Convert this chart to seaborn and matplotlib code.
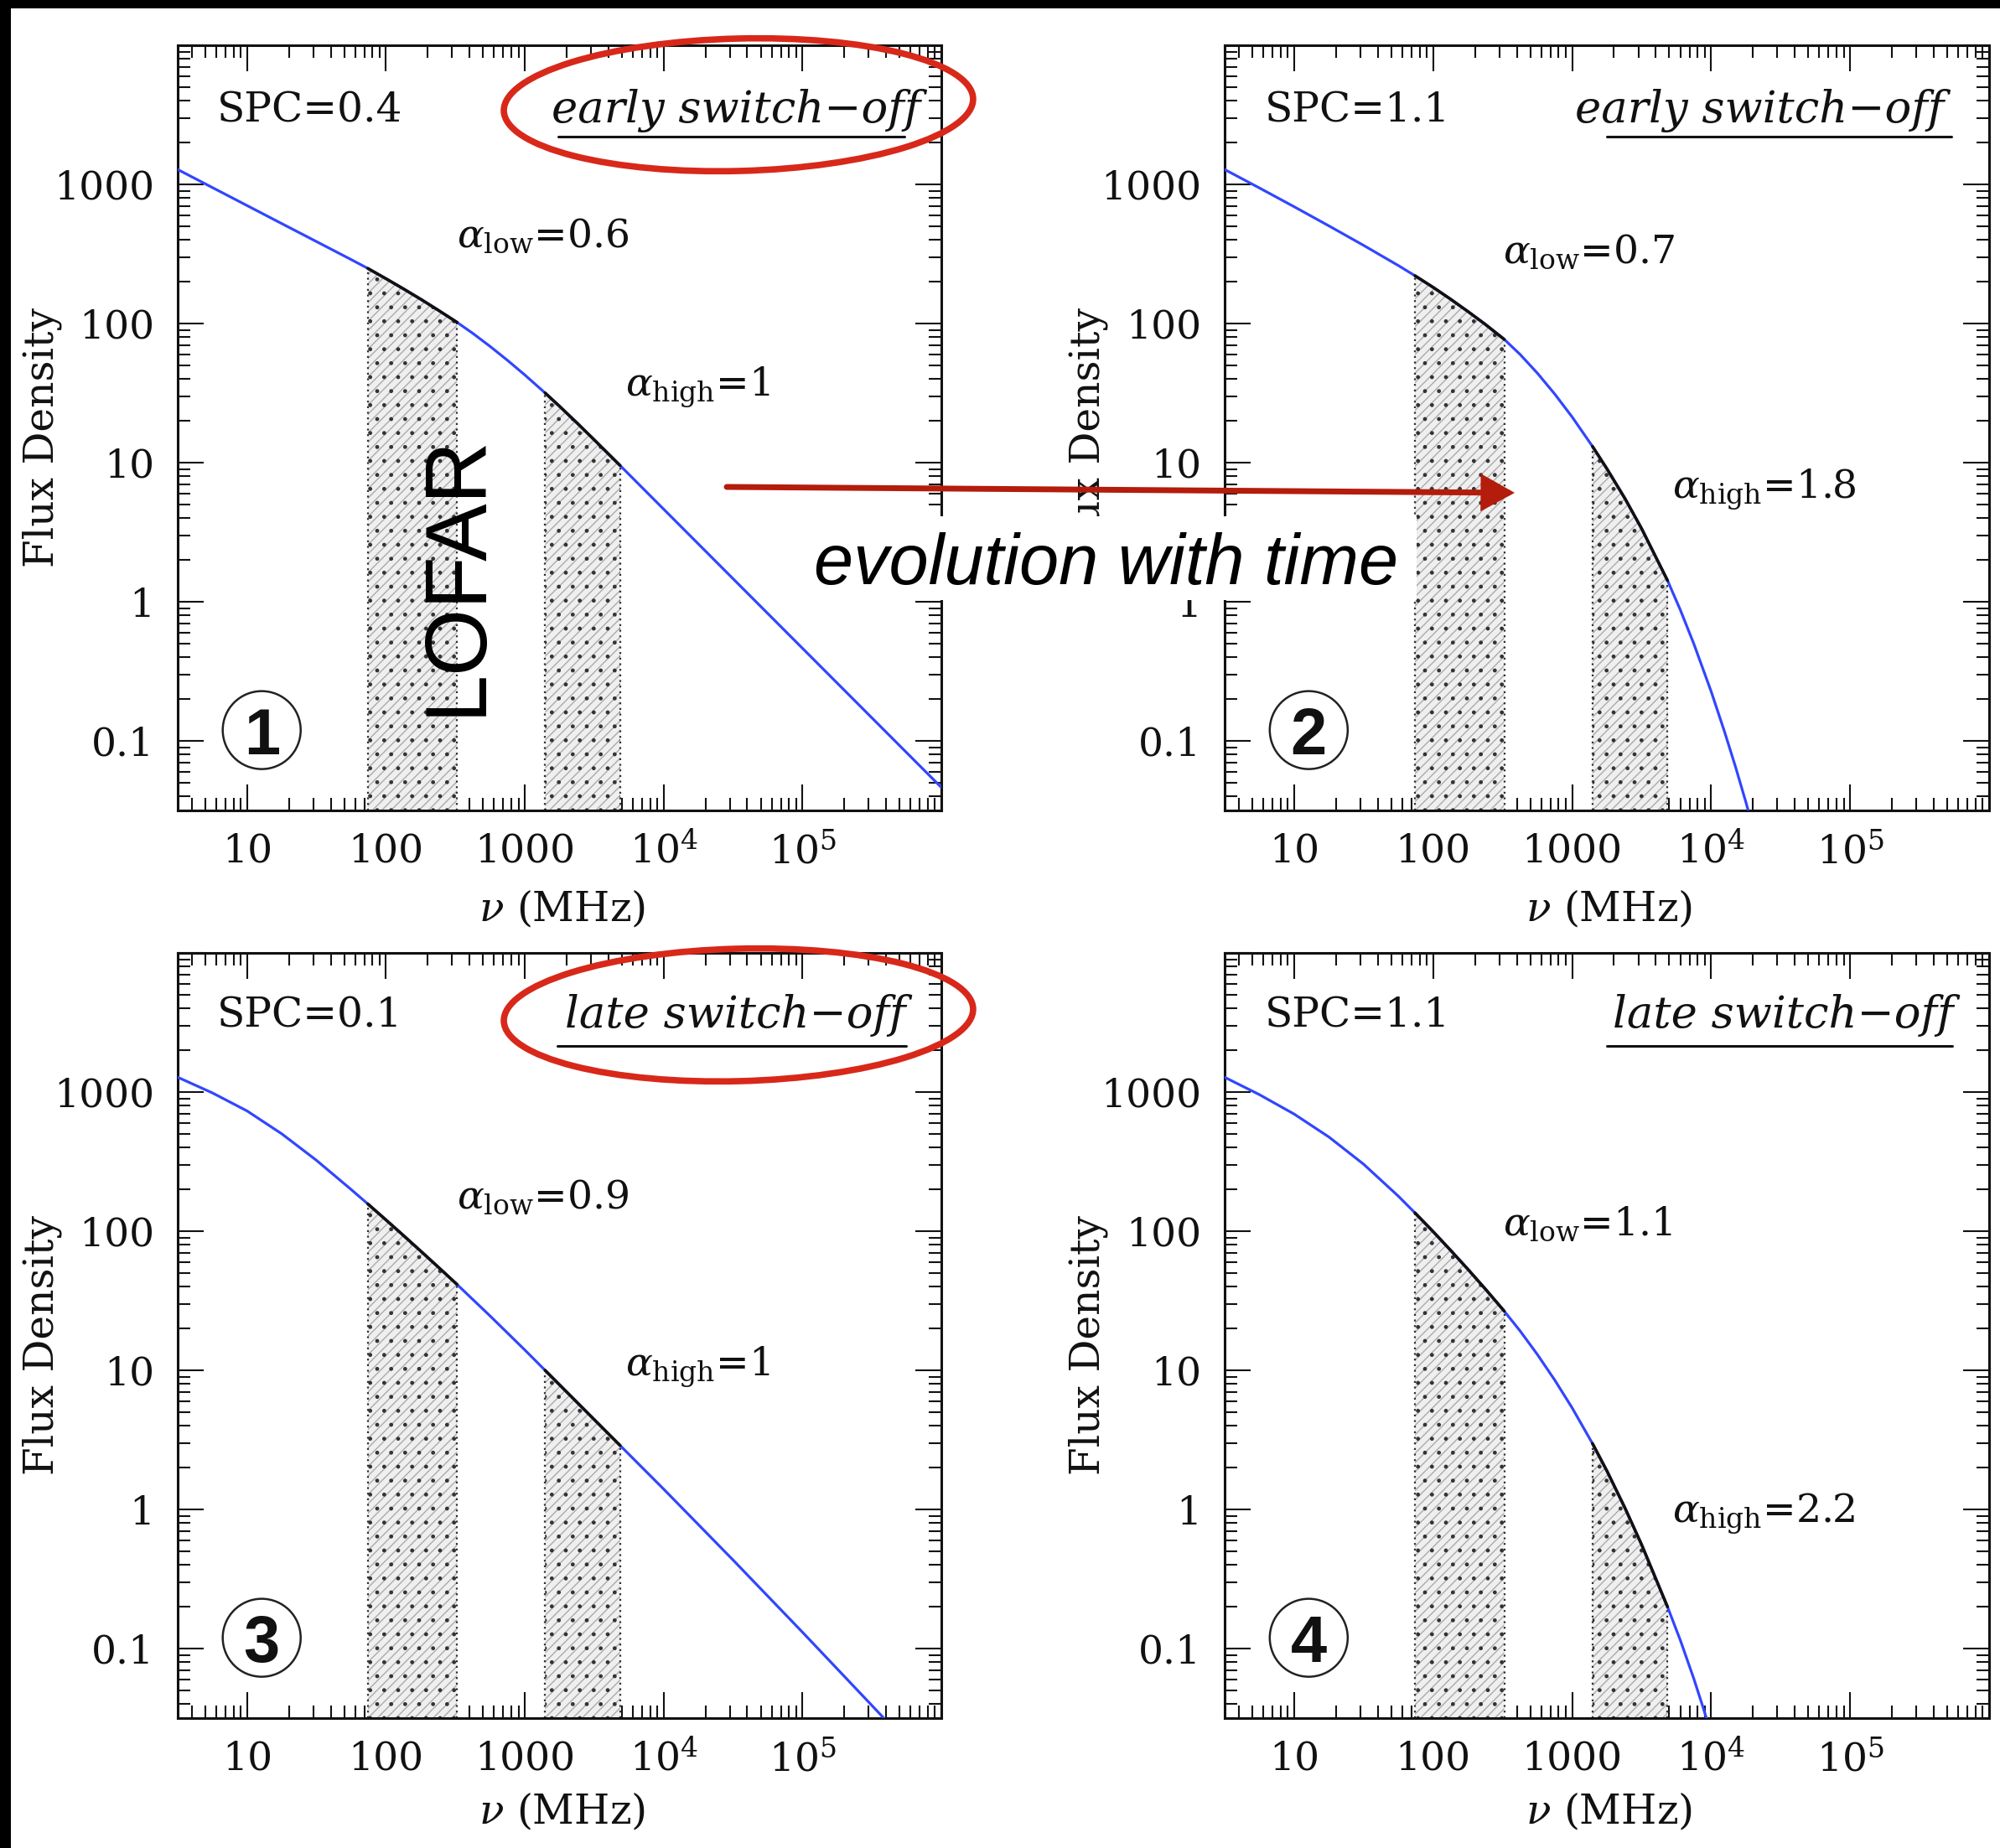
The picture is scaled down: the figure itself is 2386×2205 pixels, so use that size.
import numpy as np
import pandas as pd
import matplotlib
matplotlib.use("Agg")
import matplotlib.pyplot as plt
from matplotlib.patches import Ellipse, Rectangle, FancyArrowPatch, ArrowStyle
from matplotlib.ticker import LogLocator, FixedLocator, FixedFormatter, NullFormatter
import seaborn as sns

# ---------------------------------------------------------------------------
# Model spectra: frequency (MHz) and flux density for each panel
# ---------------------------------------------------------------------------
freq_p1 = [3.16, 5.62, 10, 17.8, 31.6, 56.2, 74, 100, 133, 178, 237, 325, 422,
           562, 750, 1000, 1400, 1780, 2400, 3160, 4860, 10000, 31600,
           100000, 316000, 1000000]
flux_p1 = [1280, 949, 704, 522, 388, 288, 249, 210, 178, 149.5, 125, 102, 85,
           68.5, 54.4, 42.7, 31.7, 25.4, 19.1, 14.6, 9.53, 4.63, 1.465,
           0.463, 0.1465, 0.0463]

freq_p2 = [3.16, 5.62, 10, 17.8, 31.6, 56.2, 74, 100, 133, 178, 237, 325, 422,
           562, 750, 1000, 1400, 1780, 2400, 3160, 4860, 6000, 7500, 10000,
           12500, 15000, 17800, 21000]
flux_p2 = [1280, 943, 691, 503, 364.5, 261, 220.6, 182, 150, 122, 98.7, 76.9,
           60.0, 44.0, 31.1, 21.3, 13.1, 9.03, 5.52, 3.36, 1.42, 0.875, 0.50,
           0.227, 0.116, 0.0648, 0.0362, 0.020]

freq_p3 = [3.16, 5.62, 10, 17.8, 31.6, 56.2, 74, 100, 133, 178, 237, 325, 562,
           1000, 1400, 2400, 4860, 10000, 31600, 100000, 316000, 1000000]
flux_p3 = [1278, 986, 731, 500, 322.8, 199, 157, 120.5, 93.5, 71.9, 55.4, 41.4,
           24.6, 14.0, 10.0, 5.83, 2.88, 1.40, 0.433, 0.131, 0.039, 0.0115]

freq_p4 = [3.16, 5.62, 10, 17.8, 31.6, 56.2, 74, 100, 133, 178, 237, 325, 422,
           562, 750, 1000, 1400, 1780, 2400, 3160, 4860, 6000, 7500, 8800,
           10000, 12000]
flux_p4 = [1278, 958.5, 694.6, 475, 303, 178.5, 135.4, 99.3, 73.2, 53.2, 38.5,
           26.6, 19.2, 13.0, 8.5, 5.37, 2.98, 1.89, 1.024, 0.559, 0.199, 0.115,
           0.0609, 0.0371, 0.0244, 0.0129]

panel_freqs = [freq_p1, freq_p2, freq_p3, freq_p4]
panel_fluxes = [flux_p1, flux_p2, flux_p3, flux_p4]
panel_spc = ["0.4", "1.1", "0.1", "1.1"]
panel_regime = ["early switch\u2212off", "early switch\u2212off",
                "late switch\u2212off", "late switch\u2212off"]
alpha_low = ["0.6", "0.7", "0.9", "1.1"]
alpha_high = ["1", "1.8", "1", "2.2"]
panel_tags = ["1", "2", "3", "4"]

# Observing bands (MHz)
band_low = (74, 325)
band_high = (1400, 4860)

x_tick_values = [10, 100, 1000, 1e4, 1e5, 1e6]
x_tick_labels = ["10", "100", "1000", r"$10^4$", r"$10^5$", ""]
y_tick_values = [0.1, 1, 10, 100, 1000, 1e4]
y_tick_labels = ["0.1", "1", "10", "100", "1000", ""]

rows = []
for p, (fr, fl) in enumerate(zip(panel_freqs, panel_fluxes)):
    for f, s in zip(fr, fl):
        rows.append({"panel": p, "freq": f, "flux": s})
spectra = pd.DataFrame(rows)

# ---------------------------------------------------------------------------
# Style
# ---------------------------------------------------------------------------
sns.set_theme(style="ticks")
plt.rcParams["font.family"] = ["DejaVu Serif", "DejaVu Sans"]
plt.rcParams["mathtext.fontset"] = "dejavuserif"
plt.rcParams["hatch.linewidth"] = 1.0

W, H = 2386, 2205
fig = plt.figure(figsize=(W / 100, H / 100), dpi=100)
fig.patch.set_facecolor("white")

# axes boxes in pixels: left, top, right, bottom
boxes = [(212, 54, 1123, 967), (1461, 54, 2373, 967),
         (212, 1137, 1123, 2050), (1461, 1137, 2373, 2050)]

curve_blue = "#3146ff"
xlo, xhi = 10 ** 0.5, 1e6
ylo, yhi = 10 ** -1.5, 1e4

# per panel text placement (axes fraction)
regime_right = [0.9726, 0.941, 0.953, 0.9535]
under_span = [(0.498, 0.952), (0.500, 0.951), (0.497, 0.954), (0.500, 0.952)]
text_y = [0.915, 0.915, 0.918, 0.918]
under_y = [0.881, 0.881, 0.878, 0.878]
alow_pos = [(0.3655, 0.736), (0.364, 0.715), (0.3655, 0.666), (0.364, 0.631)]
ahigh_pos = [(0.586, 0.542), (0.586, 0.409), (0.586, 0.448), (0.586, 0.256)]
xlabel_y = [-0.102, -0.102, -0.095, -0.095]

for p, (l, t, r, b) in enumerate(boxes):
    ax = fig.add_axes([l / W, 1 - b / H, (r - l) / W, (b - t) / H])
    ax.set_xscale("log")
    ax.set_yscale("log")
    ax.set_xlim(xlo, xhi)
    ax.set_ylim(ylo, yhi)

    d = spectra[spectra["panel"] == p]

    # hatched observing bands under the curve
    for lo, hi in (band_low, band_high):
        seg = d[(d["freq"] >= lo) & (d["freq"] <= hi)]
        ax.fill_between(seg["freq"], ylo, seg["flux"], facecolor="#efefef",
                        edgecolor="#ababab", hatch="///", linewidth=0, zorder=1)
        ax.fill_between(seg["freq"], ylo, seg["flux"], facecolor="none",
                        edgecolor="#333333", hatch=".", linewidth=0, zorder=1.1)
        for edge in (lo, hi):
            val = seg.loc[seg["freq"] == edge, "flux"].iloc[0]
            ax.vlines(edge, ylo, val, colors="#303030", linestyles=(0, (1, 2)),
                      linewidth=1.6, zorder=1.5)

    sns.lineplot(data=d, x="freq", y="flux", color=curve_blue, linewidth=2.3,
                 ax=ax, zorder=3)
    for lo, hi in (band_low, band_high):
        seg = d[(d["freq"] >= lo) & (d["freq"] <= hi)]
        sns.lineplot(data=seg, x="freq", y="flux", color="#111111",
                     linewidth=2.6, ax=ax, zorder=4)

    # axes cosmetics
    for sp in ax.spines.values():
        sp.set_linewidth(2.2)
        sp.set_color("#111111")
    ax.xaxis.set_major_locator(FixedLocator(x_tick_values))
    ax.xaxis.set_major_formatter(FixedFormatter(x_tick_labels))
    ax.yaxis.set_major_locator(FixedLocator(y_tick_values))
    ax.yaxis.set_major_formatter(FixedFormatter(y_tick_labels))
    ax.xaxis.set_minor_locator(LogLocator(base=10, subs=np.arange(2, 10), numticks=100))
    ax.yaxis.set_minor_locator(LogLocator(base=10, subs=np.arange(2, 10), numticks=100))
    ax.xaxis.set_minor_formatter(NullFormatter())
    ax.yaxis.set_minor_formatter(NullFormatter())
    ax.tick_params(which="both", direction="in", top=True, right=True,
                   width=1.5, color="#111111", labelsize=34, labelcolor="#111111")
    ax.tick_params(which="major", length=22)
    ax.tick_params(which="minor", length=11)
    ax.tick_params(axis="x", which="major", pad=19)
    ax.tick_params(axis="y", which="major", pad=20)

    ax.set_xlabel(r"$\nu$ (MHz)", fontsize=35, color="#111111")
    ax.set_ylabel("Flux Density", fontsize=35, color="#111111")
    ax.xaxis.set_label_coords(0.503, xlabel_y[p])
    ax.yaxis.set_label_coords(-0.152, 0.487)

    # annotations inside the panel
    ax.text(0.052, text_y[p], f"SPC={panel_spc[p]}", transform=ax.transAxes,
            fontsize=35, ha="left", va="center", color="#111111")
    ax.text(regime_right[p], text_y[p], panel_regime[p], transform=ax.transAxes,
            fontsize=38, style="italic", ha="right", va="center", color="#111111")
    ax.plot(under_span[p], [under_y[p], under_y[p]], transform=ax.transAxes,
            color="#111111", linewidth=2.2)
    ax.text(*alow_pos[p], r"$\alpha_{\rm low}$" + f"={alpha_low[p]}",
            transform=ax.transAxes, fontsize=34, ha="left", va="baseline",
            color="#111111", zorder=5)
    ax.text(*ahigh_pos[p], r"$\alpha_{\rm high}$" + f"={alpha_high[p]}",
            transform=ax.transAxes, fontsize=34, ha="left", va="baseline",
            color="#111111", zorder=5)

    # circled panel number
    wpx, hpx = r - l, b - t
    ax.add_patch(Ellipse((0.11, 0.105), 93 / wpx, 93 / hpx, transform=ax.transAxes,
                         facecolor="white", edgecolor="#222222", linewidth=1.8,
                         zorder=6))
    ax.text(0.11, 0.105, panel_tags[p], transform=ax.transAxes,
            fontsize=56, fontweight="bold", family="Liberation Sans",
            ha="center", va="center_baseline", color="#111111", zorder=7)

# ---------------------------------------------------------------------------
# Overlay: highlights, arrow and captions drawn in pixel space
# ---------------------------------------------------------------------------
ov = fig.add_axes([0, 0, 1, 1], zorder=10)
ov.set_xlim(0, W)
ov.set_ylim(H, 0)
ov.axis("off")
ov.patch.set_alpha(0)

ov.add_patch(Rectangle((0, 0), W, 10, facecolor="black", edgecolor="none"))
ov.add_patch(Rectangle((0, 0), 13, H, facecolor="black", edgecolor="none"))

highlight_red = "#d8281a"
for cy in (125, 1211):
    ov.add_patch(Ellipse((881, cy), 560, 158, angle=-1.5, fill=False,
                         edgecolor=highlight_red, linewidth=5.5))

ov.text(546, 686, "LOFAR", rotation=90, fontsize=74, family="Liberation Sans",
        ha="center", va="center", color="black")

ov.add_patch(Rectangle((958, 616), 732, 100, facecolor="white", edgecolor="none"))
ov.text(971, 697, "evolution with time", fontsize=61, family="Liberation Sans",
        style="italic", ha="left", va="baseline", color="black")

arrow = FancyArrowPatch((867, 581), (1807, 588),
                        arrowstyle=ArrowStyle("-|>", head_length=0.36, head_width=0.2),
                        mutation_scale=60, linewidth=5.0, color="#b41c0c",
                        shrinkA=0, shrinkB=0, joinstyle="miter")
ov.add_patch(arrow)

fig.savefig("out.png", dpi=100, facecolor="white")
